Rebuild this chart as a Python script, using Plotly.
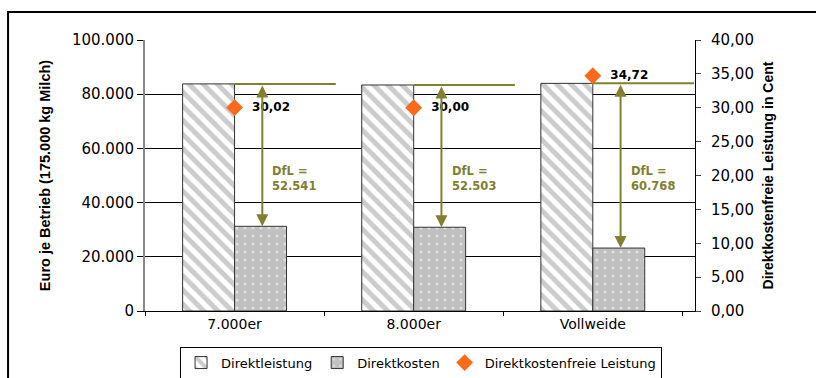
import plotly.graph_objects as go

categories = ["7.000er", "8.000er", "Vollweide"]
direktleistung = [83800, 83400, 84000]
direktkosten = [31260, 30900, 23230]
dfl_cent = [30.02, 30.00, 34.72]
dfl_euro = [52541, 52503, 60768]
dfl_labels = ["52.541", "52.503", "60.768"]

OLIVE = "#80802f"
ORANGE = "#ff6a1a"
FONT = "DejaVu Sans, Liberation Sans, Arial, sans-serif"
TFONT = "Liberation Sans, Arial, sans-serif"

fig = go.Figure()
fig.add_trace(go.Bar(
    x=categories, y=direktleistung, name="Direktleistung",
    marker=dict(color="white", line=dict(color="#333333", width=1),
                pattern=dict(shape="\\", fgcolor="#9a9a9a", bgcolor="white",
                             size=10, solidity=0.5)),
))
fig.add_trace(go.Bar(
    x=categories, y=direktkosten, name="Direktkosten",
    marker=dict(color="#c0c0c0", line=dict(color="#333333", width=1),
                pattern=dict(shape=".", fgcolor="white", bgcolor="#c0c0c0",
                             size=8, solidity=0.12)),
))
fig.add_trace(go.Scatter(
    x=categories, y=dfl_cent, name="Direktkostenfreie Leistung", yaxis="y2",
    mode="markers+text", marker=dict(symbol="diamond", size=13, color=ORANGE),
    texttemplate="  %{y:.2f}", textposition="middle right",
    textfont=dict(family=FONT, size=12, color="black", weight="bold"),
))

# DfL helper lines/arrows (category index coordinates)
for i, (dl, dk, lab) in enumerate(zip(direktleistung, direktkosten, dfl_labels)):
    fig.add_shape(type="line", xref="x", yref="y", x0=i, x1=i + 0.565, y0=dl, y1=dl,
                  line=dict(color=OLIVE, width=2))
    fig.add_annotation(x=i + 0.155, y=dk, ax=i + 0.155, ay=dl, xref="x", yref="y",
                       axref="x", ayref="y", text="", showarrow=True,
                       arrowhead=2, startarrowhead=2, arrowside="end+start",
                       arrowsize=1.2, arrowwidth=2, arrowcolor=OLIVE)
    fig.add_annotation(x=i + 0.2, y=49000, xref="x", yref="y", text="DfL =<br>" + lab,
                       showarrow=False, xanchor="left", align="left",
                       font=dict(family=FONT, size=11.5, color=OLIVE, weight="bold"))

# outer frame
fig.add_shape(type="rect", xref="paper", yref="paper", x0=-0.249, x1=1.4, y0=-0.6, y1=1.103,
              line=dict(color="black", width=2), layer="above")

fig.update_layout(
    width=816, height=378,
    margin=dict(l=145, r=121, t=40, b=67, autoexpand=False),
    paper_bgcolor="white", plot_bgcolor="white",
    separators=",.",
    barmode="group", bargap=0.42, bargroupgap=0,
    font=dict(family=FONT, size=15, color="black"),
    showlegend=True,
    legend=dict(orientation="h", xref="container", yref="container",
                x=0.516, xanchor="center", y=0.083, yanchor="top",
                bordercolor="black", borderwidth=1, font=dict(size=13),
                itemwidth=30, tracegroupgap=0),
    xaxis=dict(showline=True, linecolor="black", linewidth=1, ticks="outside",
               tickson="boundaries", ticklen=4, tickcolor="black", showgrid=False,
               tickfont=dict(size=14)),
    yaxis=dict(range=[0, 100000], dtick=20000, tickformat=",d", showgrid=True,
               gridcolor="black", gridwidth=1, showline=True, linecolor="#888888",
               linewidth=2, ticks="outside", ticklen=6, tickcolor="black",
               zeroline=False,
               title=dict(text="<b>Euro je Betrieb (175.000 kg Milch)</b>", standoff=18,
                          font=dict(family=TFONT, size=14.5))),
    yaxis2=dict(range=[0, 40], dtick=5, tickformat=".2f", overlaying="y", side="right",
                showgrid=False, showline=True, linecolor="black", linewidth=1,
                ticks="outside", ticklen=5, zeroline=False, ticklabelstandoff=7,
                title=dict(text="<b>Direktkostenfreie Leistung in Cent</b>", standoff=10,
                           font=dict(family=TFONT, size=14))),
)

fig.write_html("out.html")
